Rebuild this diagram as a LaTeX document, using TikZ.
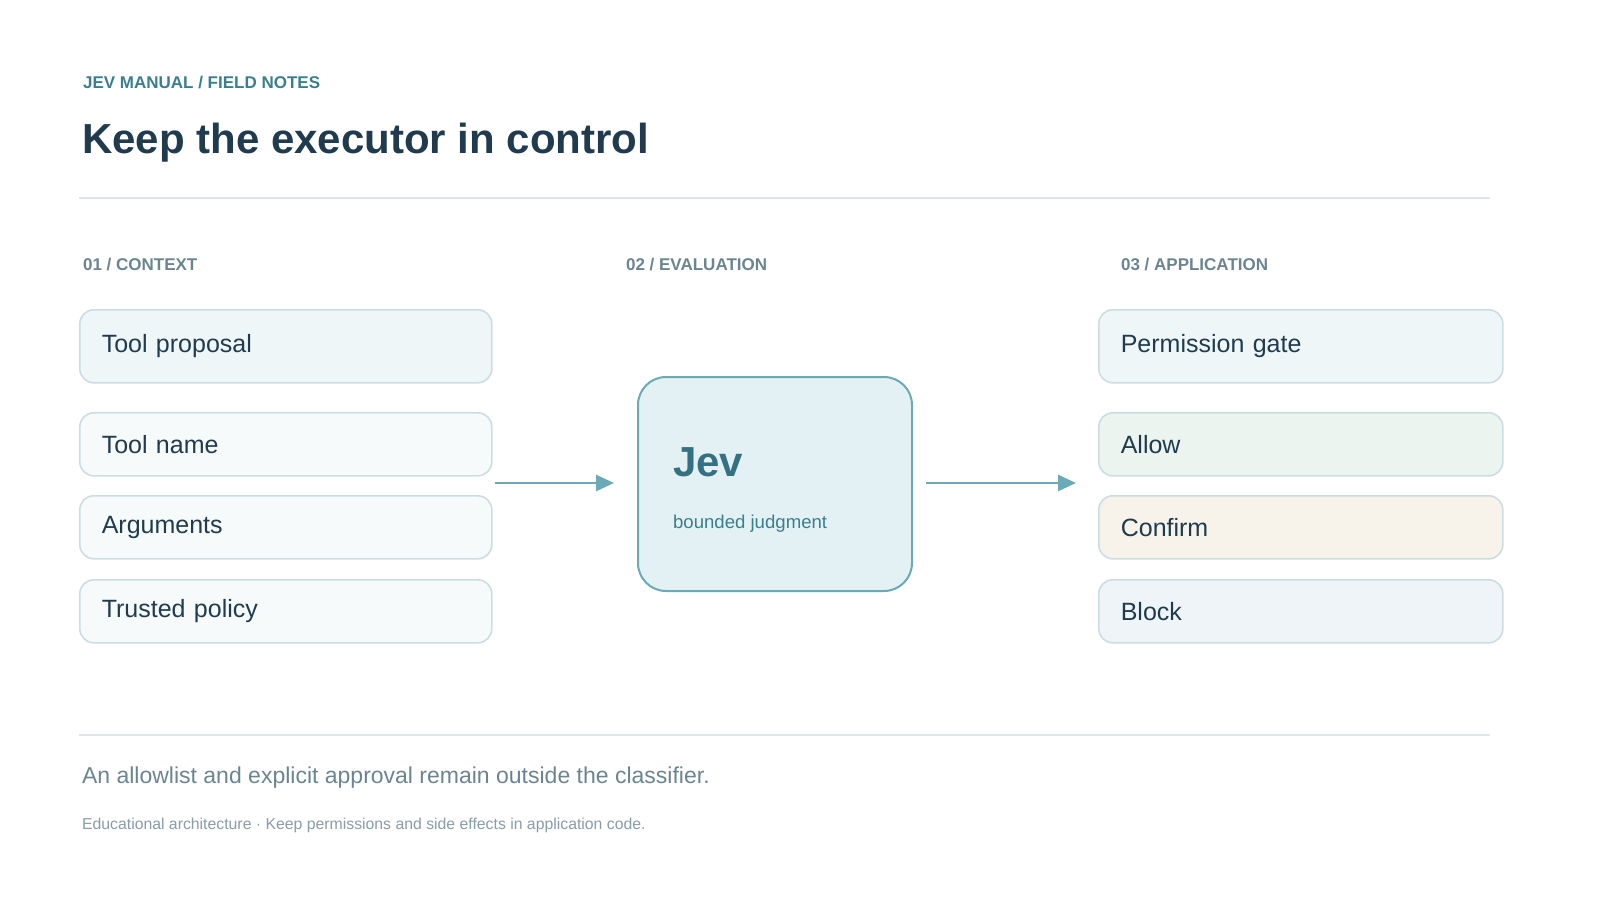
\documentclass[tikz,border=0pt]{standalone}
\usepackage{fontspec}
\setmainfont{Liberation Sans}
\usepackage{xcolor}
\usetikzlibrary{arrows.meta,positioning}
\definecolor{ink}{HTML}{1F3B4D}
\definecolor{teal}{HTML}{3A7F8C}
\definecolor{slate}{HTML}{6B8590}
\definecolor{rule}{HTML}{DDE6EA}
\definecolor{edge}{HTML}{CCDDE2}
\definecolor{arrowc}{HTML}{6AAAB6}
\definecolor{pale}{HTML}{EEF6F8}
\definecolor{plain}{HTML}{F7FAFA}
\definecolor{jevfill}{HTML}{E3F1F4}
\definecolor{okfill}{HTML}{EBF4EE}
\definecolor{askfill}{HTML}{F7F3EA}
\definecolor{nofill}{HTML}{EEF4F7}

\begin{document}
\begin{tikzpicture}[x=0.5pt,y=-0.5pt,
    card/.style={draw=edge, line width=0.8pt, rounded corners=7pt, anchor=north west,
        minimum width=200pt, text width=184pt, align=left, inner xsep=11pt,
        font=\fontsize{12.5}{14}\selectfont, text=ink},
    kicker/.style={anchor=west, font=\bfseries\fontsize{8.5}{10}\selectfont, text=slate},
    flow/.style={draw=arrowc, line width=1.4pt, -{Triangle[length=9pt,width=8pt]}}]
    \useasboundingbox (0,0) rectangle (1600,900);
    % header
    \node[anchor=west, font=\bfseries\fontsize{8.5}{10}\selectfont, text=teal] (kick) at (76,83) {JEV MANUAL / FIELD NOTES};
    \node[anchor=west, font=\bfseries\fontsize{21}{25}\selectfont, text=ink] (title) at (75,143) {Keep the executor in control};
    \draw[rule, line width=0.7pt] (79,198) -- (1490,198);
    % column heads
    \node[kicker] (h1) at (76,265) {01 / CONTEXT};
    \node[kicker] (h2) at (619,265) {02 / EVALUATION};
    \node[kicker] (h3) at (1114,265) {03 / APPLICATION};
    % context
    \node[card, fill=pale, minimum height=36.5pt] (prop) at (79,309) {Tool proposal};
    \node[card, fill=plain, minimum height=31.5pt] (name) at (79,412) {Tool name};
    \node[card, fill=plain, minimum height=31.5pt] (args) at (79,495) {Arguments};
    \node[card, fill=plain, minimum height=31.5pt] (pol) at (79,579) {Trusted policy};
    % evaluation
    \node[draw=arrowc, fill=jevfill, line width=1pt, rounded corners=14pt, anchor=north west,
        minimum width=137pt, minimum height=107pt] (jev) at (637,376) {};
    \node[anchor=west, font=\bfseries\fontsize{21}{24}\selectfont, text=teal!80!ink] (jevt) at (666,462) {Jev};
    \node[anchor=west, font=\fontsize{9.3}{11}\selectfont, text=teal] (jevs) at (666,524) {bounded judgment};
    % application
    \node[card, fill=pale, minimum width=196pt, text width=180pt, minimum height=36.5pt] (gate) at (1098,309) {Permission gate};
    \node[card, fill=okfill, minimum width=196pt, text width=180pt, minimum height=31.5pt] (allow) at (1098,412) {Allow};
    \node[card, fill=askfill, minimum width=196pt, text width=180pt, minimum height=31.5pt] (conf) at (1098,495) {Confirm};
    \node[card, fill=nofill, minimum width=196pt, text width=180pt, minimum height=31.5pt] (block) at (1098,579) {Block};
    % arrows
    \coordinate (a1) at (495,483);
    \coordinate (a2) at (926,483);
    \draw[flow] (a1) -- ([xshift=-11.5pt]a1 -| jev.west);
    \draw[flow] (a2) -- ([xshift=-11pt]a2 -| allow.west);
    % footer
    \draw[rule, line width=0.7pt] (79,735) -- (1490,735);
    \node[anchor=west, font=\fontsize{11.5}{13}\selectfont, text=slate] (note) at (75,778) {An allowlist and explicit approval remain outside the classifier.};
    \node[anchor=west, font=\fontsize{7.9}{9}\selectfont, text=slate!80] (fine) at (75,825) {Educational architecture · Keep permissions and side effects in application code.};
\end{tikzpicture}
\end{document}
